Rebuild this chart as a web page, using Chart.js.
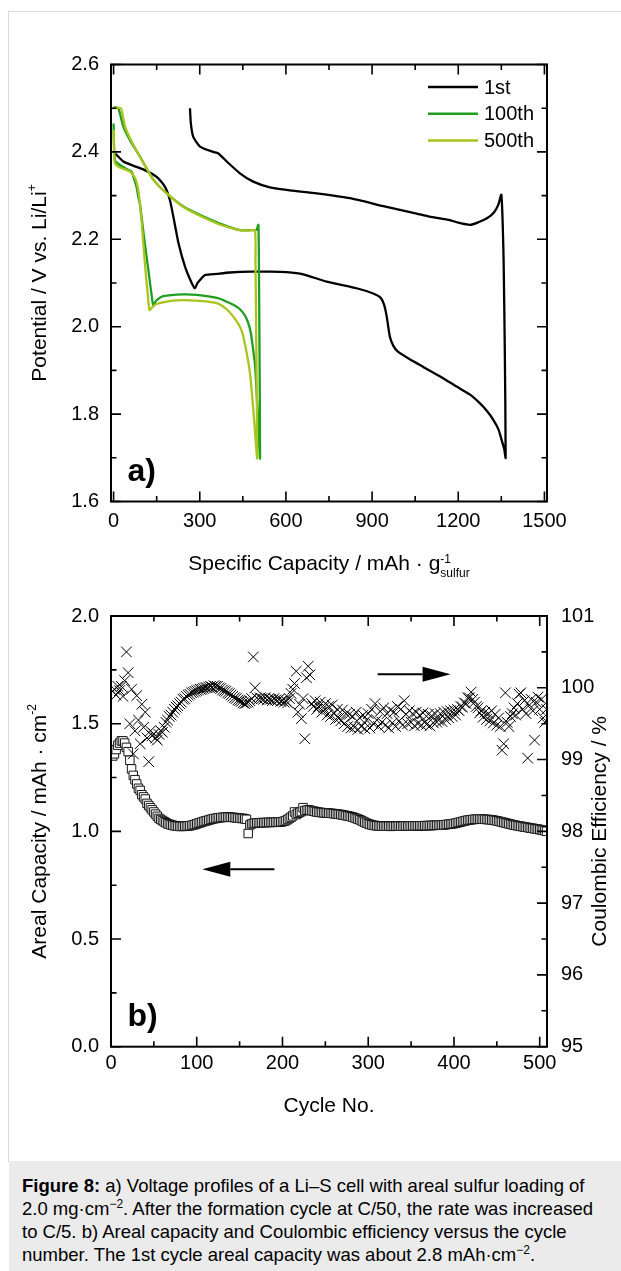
<!DOCTYPE html>
<html>
<head>
<meta charset="utf-8">
<script src="https://cdn.jsdelivr.net/npm/chart.js@4.4.0/dist/chart.umd.min.js"></script>
<style>
  body { margin: 0; background: #fff; width: 621px; height: 1271px; position: relative; overflow: hidden;
         font-family: "Liberation Sans", Arial, sans-serif; }
  #frame { position: absolute; left: 8px; top: 11px; width: 700px; height: 1150px;
           border-top: 1px solid #dadada; border-left: 1px solid #dadada; }
  #boxA { position: absolute; left: 0; top: 0; }
  #boxB { position: absolute; left: 0; top: 590px; }
  #caption { position: absolute; left: 9px; top: 1161px; width: 612px; height: 110px; background: #ebebeb;
             box-sizing: border-box; padding: 13px 0 0 13px; font-size: 18.5px; line-height: 23px; color: #000;
             white-space: nowrap; }
  #caption sup { font-size: 12px; line-height: 0; vertical-align: 7px; }
</style>
</head>
<body>
<div id="frame"></div>
<canvas id="boxA" width="621" height="590"></canvas>
<canvas id="boxB" width="621" height="570"></canvas>
<div id="caption"><b>Figure 8:</b> a) Voltage profiles of a Li–S cell with areal sulfur loading of<br>2.0 mg·cm<sup>−2</sup>. After the formation cycle at C/50, the rate was increased<br>to C/5. b) Areal capacity and Coulombic efficiency versus the cycle<br>number. The 1st cycle areal capacity was about 2.8 mAh·cm<sup>−2</sup>.</div>

<script>
const FONT = '"Liberation Sans", Arial, sans-serif';

// ---------- a) voltage profiles (capacity in mAh/g, potential in V) ----------
// 1st cycle: discharge then charge, one continuous trace
const cap1st = [0, 34, 70, 103, 150, 179, 196, 208, 226, 249, 270, 283, 292, 301, 318, 360, 405, 480, 545, 602,
                660, 742, 846, 904, 930, 942, 951, 962, 975, 990, 1030, 1078, 1140, 1194, 1240, 1275, 1300, 1322, 1340, 1351,
                1360, 1365, 1362, 1358, 1355, 1350, 1340, 1325, 1300, 1270, 1241, 1200, 1171, 1100, 1055, 939, 823, 707, 614, 544,
                486, 440, 394, 364, 347, 301, 277, 269, 266];
const pot1st = [2.400, 2.378, 2.368, 2.360, 2.343, 2.320, 2.290, 2.252, 2.191, 2.137, 2.103, 2.088, 2.100, 2.107, 2.118, 2.121, 2.124, 2.126, 2.126, 2.125,
                2.120, 2.103, 2.088, 2.076, 2.066, 2.050, 2.023, 1.977, 1.955, 1.943, 1.926, 1.908, 1.885, 1.863, 1.845, 1.825, 1.807, 1.787, 1.765, 1.741,
                1.720, 1.700, 1.950, 2.150, 2.230, 2.302, 2.280, 2.262, 2.248, 2.239, 2.233, 2.238, 2.244, 2.252, 2.259, 2.276, 2.294, 2.305, 2.312, 2.319,
                2.332, 2.351, 2.378, 2.397, 2.400, 2.412, 2.435, 2.465, 2.500];
const cap100 = [0, 1, 5, 22, 51, 63, 69, 80, 86, 92, 103, 109, 121, 133, 138, 145, 150, 173, 243, 290,
                336, 370, 394, 420, 440, 458, 469, 478, 486, 492, 498, 504, 510,
                508, 506, 504, 498, 487, 440, 382, 313, 243, 185, 139, 92, 57, 34, 22, 16, 8, 0];
const pot100 = [2.465, 2.427, 2.381, 2.370, 2.359, 2.355, 2.343, 2.320, 2.297, 2.280, 2.221, 2.190, 2.130, 2.069, 2.050, 2.056, 2.061, 2.070, 2.074, 2.073,
                2.069, 2.064, 2.057, 2.049, 2.040, 2.025, 2.008, 1.985, 1.947, 1.916, 1.850, 1.764, 1.699,
                1.950, 2.150, 2.233, 2.222, 2.221, 2.221, 2.233, 2.252, 2.275, 2.305, 2.336, 2.389, 2.427, 2.458, 2.488, 2.500, 2.502, 2.502];
const cap500 = [0, 2, 5, 20, 57, 75, 86, 98, 109, 118, 125, 135, 150, 200, 243, 300, 359, 390, 417, 440, 452, 475, 492, 500,
                497, 494, 492, 470, 440, 382, 313, 243, 185, 139, 95, 62, 40, 30, 25, 0];
const pot500 = [2.450, 2.400, 2.374, 2.365, 2.355, 2.340, 2.313, 2.237, 2.145, 2.080, 2.038, 2.045, 2.052, 2.059, 2.061, 2.059, 2.054, 2.042, 2.023, 2.000, 1.977, 1.893, 1.764, 1.699,
                1.950, 2.150, 2.221, 2.220, 2.221, 2.231, 2.250, 2.274, 2.305, 2.336, 2.385, 2.425, 2.458, 2.490, 2.500, 2.500];
const cycleLabels = ['1st', '100th', '500th'];
const capTicksA = [0, 300, 600, 900, 1200, 1500];
const capMinorA = [150, 450, 750, 1050, 1350];
const potTicksA = [1.6, 1.8, 2.0, 2.2, 2.4, 2.6];
const potMinorA = [1.7, 1.9, 2.1, 2.3, 2.5];

// ---------- b) cycling (every 2nd cycle, starting at cycle 2) ----------
const firstCycle = 2;
const cycleStep = 2;
const arealCap = [
  1.35, 1.36, 1.38, 1.40, 1.41, 1.42, 1.42, 1.41, 1.39, 1.37,
  1.33, 1.29, 1.26, 1.24, 1.22, 1.20, 1.19, 1.17, 1.16, 1.15,
  1.13, 1.12, 1.11, 1.10, 1.09, 1.08, 1.07, 1.06, 1.055, 1.05,
  1.045, 1.04, 1.035, 1.033, 1.03, 1.028, 1.026, 1.025, 1.024, 1.023,
  1.023, 1.023, 1.024, 1.024, 1.025, 1.026, 1.028, 1.030, 1.032, 1.035,
  1.038, 1.040, 1.043, 1.046, 1.048, 1.050, 1.052, 1.055, 1.057, 1.059,
  1.060, 1.062, 1.063, 1.064, 1.065, 1.065, 1.066, 1.066, 1.066, 1.065,
  1.065, 1.064, 1.063, 1.062, 1.061, 1.060, 1.060, 1.058, 1.056, 0.990,
  1.030, 1.035, 1.037, 1.038, 1.039, 1.040, 1.040, 1.041, 1.040, 1.041,
  1.041, 1.042, 1.041, 1.042, 1.042, 1.043, 1.042, 1.043, 1.044, 1.045,
  1.047, 1.050, 1.055, 1.060, 1.066, 1.072, 1.090, 1.078, 1.084, 1.088,
  1.092, 1.110, 1.096, 1.098, 1.100, 1.098, 1.096, 1.094, 1.092, 1.090,
  1.089, 1.088, 1.087, 1.086, 1.086, 1.085, 1.084, 1.084, 1.083, 1.082,
  1.081, 1.080, 1.079, 1.078, 1.076, 1.075, 1.073, 1.072, 1.070, 1.068,
  1.066, 1.063, 1.060, 1.057, 1.054, 1.050, 1.046, 1.042, 1.038, 1.035,
  1.032, 1.030, 1.028, 1.027, 1.026, 1.025, 1.025, 1.024, 1.024, 1.024,
  1.024, 1.024, 1.023, 1.024, 1.024, 1.024, 1.024, 1.025, 1.024, 1.024,
  1.025, 1.025, 1.024, 1.025, 1.025, 1.025, 1.026, 1.025, 1.026, 1.026,
  1.026, 1.026, 1.027, 1.026, 1.027, 1.027, 1.027, 1.028, 1.028, 1.028,
  1.029, 1.029, 1.030, 1.030, 1.031, 1.032, 1.033, 1.034, 1.035, 1.036,
  1.038, 1.040, 1.042, 1.044, 1.046, 1.048, 1.050, 1.052, 1.053, 1.054,
  1.055, 1.056, 1.056, 1.057, 1.057, 1.057, 1.056, 1.056, 1.055, 1.055,
  1.054, 1.053, 1.052, 1.050, 1.049, 1.047, 1.045, 1.043, 1.041, 1.039,
  1.037, 1.035, 1.033, 1.031, 1.029, 1.028, 1.026, 1.025, 1.023, 1.022,
  1.020, 1.019, 1.018, 1.016, 1.015, 1.014, 1.012, 1.011, 1.010, 1.008,
  1.006, 1.005, 1.003, 1.000
];
const coulEff = [
  99.95, 99.98, 99.90, 100.02, 99.96, 100.02, 99.88, 100.10, 100.50, 100.21,
  99.50, 99.98, 99.08, 99.40, 99.89, 99.55, 99.22, 99.77, 99.45, 99.66,
  99.30, 98.97, 99.40, 99.33, 99.36, 99.30, 99.27, 99.35, 99.40, 99.38,
  99.45, 99.52, 99.55, 99.60, 99.62, 99.66, 99.70, 99.73, 99.75, 99.78,
  99.80, 99.84, 99.85, 99.88, 99.90, 99.91, 99.93, 99.94, 99.95, 99.96,
  99.97, 99.98, 99.98, 99.99, 100.00, 100.00, 100.01, 100.02, 100.01, 100.03,
  100.02, 100.02, 100.00, 99.99, 99.97, 99.96, 99.95, 99.93, 99.92, 99.90,
  99.88, 99.86, 99.85, 99.83, 99.82, 99.81, 99.79, 99.78, 99.79, 99.80,
  99.82, 99.85, 100.43, 100.00, 99.86, 99.84, 99.86, 99.85, 99.84, 99.86,
  99.83, 99.85, 99.84, 99.82, 99.85, 99.83, 99.82, 99.84, 99.81, 99.82,
  99.80, 99.82, 99.79, 99.85, 99.92, 99.98, 100.06, 100.23, 99.66, 99.77,
  99.57, 99.85, 99.29, 100.14, 100.30, 100.18, 99.78, 99.74, 99.82, 99.70,
  99.74, 99.80, 99.66, 99.72, 99.78, 99.62, 99.74, 99.60, 99.76, 99.64,
  99.56, 99.70, 99.58, 99.54, 99.69, 99.50, 99.64, 99.46, 99.63, 99.44,
  99.60, 99.45, 99.66, 99.42, 99.58, 99.46, 99.62, 99.43, 99.55, 99.64,
  99.44, 99.70, 99.50, 99.78, 99.55, 99.46, 99.67, 99.52, 99.72, 99.48,
  99.64, 99.44, 99.69, 99.51, 99.66, 99.46, 99.74, 99.54, 99.70, 99.48,
  99.82, 99.63, 99.50, 99.68, 99.52, 99.64, 99.47, 99.66, 99.50, 99.62,
  99.48, 99.65, 99.52, 99.49, 99.63, 99.47, 99.61, 99.51, 99.64, 99.52,
  99.55, 99.64, 99.53, 99.66, 99.56, 99.67, 99.58, 99.68, 99.60, 99.69,
  99.62, 99.70, 99.68, 99.74, 99.73, 99.79, 99.78, 99.86, 99.86, 99.94,
  99.84, 99.80, 99.74, 99.72, 99.65, 99.68, 99.59, 99.66, 99.56, 99.64,
  99.54, 99.68, 99.51, 99.63, 99.48, 99.58, 99.46, 99.13, 99.22, 99.93,
  99.52, 99.46, 99.60, 99.64, 99.72, 99.62, 99.78, 99.91, 99.93, 99.70,
  99.82, 99.64, 99.02, 99.76, 99.84, 99.68, 99.27, 99.80, 99.87, 99.70,
  99.84, 99.58, 99.52, 99.70
];
const cycleTicks = [0, 100, 200, 300, 400, 500];
const cycleMinor = [50, 150, 250, 350, 450];
const arealTicks = [0, 0.5, 1.0, 1.5, 2.0];
const arealMinor = [0.25, 0.75, 1.25, 1.75];
const ceTicks = [95, 96, 97, 98, 99, 100, 101];
const ceMinor = [95.5, 96.5, 97.5, 98.5, 99.5, 100.5];

const cycles = arealCap.map((_, i) => firstCycle + i * cycleStep);

// draw a label made of pieces; an array inside the list is stacked (superscript over subscript)
function richText(ctx, segs, cx, cy, rot) {
  ctx.save();
  ctx.translate(cx, cy);
  ctx.rotate(rot || 0);
  ctx.fillStyle = '#000';
  ctx.textAlign = 'left';
  ctx.textBaseline = 'alphabetic';
  const widths = segs.map(g => {
    const parts = Array.isArray(g) ? g : [g];
    return Math.max(...parts.map(p => { ctx.font = p.size + 'px ' + FONT; return ctx.measureText(p.t).width; }));
  });
  let x = -widths.reduce((s, w) => s + w, 0) / 2;
  const base = segs[0].size * 0.36;
  segs.forEach((g, i) => {
    (Array.isArray(g) ? g : [g]).forEach(p => {
      ctx.font = p.size + 'px ' + FONT;
      ctx.fillText(p.t, x, base + (p.dy || 0));
    });
    x += widths[i];
  });
  ctx.restore();
}

function frameAndTicks(ctx, a, xs, yl, yr, t) {
  ctx.save();
  ctx.strokeStyle = '#000';
  ctx.lineWidth = 1.6;
  ctx.beginPath();
  const xt = (v, len) => {
    const px = xs.getPixelForValue(v);
    ctx.moveTo(px, a.bottom); ctx.lineTo(px, a.bottom - len);
    ctx.moveTo(px, a.top); ctx.lineTo(px, a.top + len);
  };
  const lt = (v, len) => { const py = yl.getPixelForValue(v); ctx.moveTo(a.left, py); ctx.lineTo(a.left + len, py); };
  const rt = (v, len) => { const py = yr.getPixelForValue(v); ctx.moveTo(a.right, py); ctx.lineTo(a.right - len, py); };
  t.xMaj.forEach(v => xt(v, 10)); t.xMin.forEach(v => xt(v, 5.5));
  t.lMaj.forEach(v => lt(v, 10)); t.lMin.forEach(v => lt(v, 5.5));
  t.rMaj.forEach(v => rt(v, 10)); t.rMin.forEach(v => rt(v, 5.5));
  ctx.stroke();
  ctx.lineWidth = 2;
  ctx.strokeRect(a.left, a.top, a.right - a.left, a.bottom - a.top);
  ctx.restore();
}

function arrow(ctx, x0, x1, y) {
  const dir = Math.sign(x1 - x0), head = 28, half = 7.5;
  ctx.save();
  ctx.strokeStyle = '#000'; ctx.fillStyle = '#000'; ctx.lineWidth = 2;
  ctx.beginPath(); ctx.moveTo(x0, y); ctx.lineTo(x1 - dir * head, y); ctx.stroke();
  ctx.beginPath(); ctx.moveTo(x1, y); ctx.lineTo(x1 - dir * head, y - half); ctx.lineTo(x1 - dir * head, y + half);
  ctx.closePath(); ctx.fill();
  ctx.restore();
}

function panelLabel(ctx, a, txt) {
  ctx.save();
  ctx.fillStyle = '#000';
  ctx.font = 'bold 32px ' + FONT;
  ctx.textBaseline = 'alphabetic';
  ctx.fillText(txt, a.left + 16.5, a.bottom - 20.5);
  ctx.restore();
}

const tickFont = { family: FONT, size: 20 };
const pairs = (xs, ys) => xs.map((x, i) => ({ x: x, y: ys[i] }));

// ---------- chart a ----------
const decorA = {
  id: 'decorA',
  afterDraw(chart) {
    const ctx = chart.ctx, a = chart.chartArea, s = chart.scales;
    frameAndTicks(ctx, a, s.x, s.y, s.y,
      { xMaj: capTicksA, xMin: capMinorA, lMaj: potTicksA, lMin: potMinorA, rMaj: potTicksA, rMin: potMinorA });
    // legend
    chart.data.datasets.forEach((ds, i) => {
      const y = a.top + 22.5 + i * 26.7;
      ctx.save();
      ctx.strokeStyle = ds.borderColor; ctx.lineWidth = 2.5;
      ctx.beginPath(); ctx.moveTo(a.right - 119, y); ctx.lineTo(a.right - 69, y); ctx.stroke();
      ctx.fillStyle = '#000'; ctx.font = '20px ' + FONT; ctx.textBaseline = 'middle';
      ctx.fillText(ds.label, a.right - 63, y + 1);
      ctx.restore();
    });
    panelLabel(ctx, a, 'a)');
    richText(ctx, [{ t: 'Specific Capacity / mAh · g', size: 21 },
                   [{ t: '-1', size: 12, dy: -7 }, { t: 'sulfur', size: 12, dy: 7 }]],
             (a.left + a.right) / 2, 562, 0);
    richText(ctx, [{ t: 'Potential / V vs. Li/Li', size: 21 }, { t: '+', size: 12, dy: -10 }],
             38, (a.top + a.bottom) / 2, -Math.PI / 2);
  }
};

new Chart(document.getElementById('boxA'), {
  type: 'scatter',
  data: {
    datasets: [
      { label: cycleLabels[0], data: pairs(cap1st, pot1st), borderColor: '#000000', order: 2 },
      { label: cycleLabels[1], data: pairs(cap100, pot100), borderColor: '#1f9e1f', order: 1 },
      { label: cycleLabels[2], data: pairs(cap500, pot500), borderColor: '#a9c41d', order: 0 }
    ].map(d => Object.assign(d, { showLine: true, pointRadius: 0, borderWidth: 2.3, tension: 0.2, fill: false }))
  },
  options: {
    responsive: false,
    animation: false,
    layout: { padding: { left: 0, right: 74, top: 64.5, bottom: 0 } },
    plugins: { legend: { display: false }, tooltip: { enabled: false } },
    scales: {
      x: {
        type: 'linear', position: 'bottom', min: -9, max: 1509,
        grid: { display: false, drawTicks: false }, border: { display: false },
        ticks: { font: tickFont, color: '#000', padding: 8, maxRotation: 0, callback: v => String(v) },
        afterBuildTicks: s => { s.ticks = capTicksA.map(v => ({ value: v })); },
        afterFit: s => { s.height = 88.5; }
      },
      y: {
        type: 'linear', position: 'left', min: 1.6, max: 2.6,
        grid: { display: false, drawTicks: false }, border: { display: false },
        ticks: { font: tickFont, color: '#000', padding: 12, callback: v => v.toFixed(1) },
        afterBuildTicks: s => { s.ticks = potTicksA.map(v => ({ value: v })); },
        afterFit: s => { s.width = 111; }
      }
    }
  },
  plugins: [decorA]
});

// ---------- chart b ----------
const decorB = {
  id: 'decorB',
  afterDraw(chart) {
    const ctx = chart.ctx, a = chart.chartArea, s = chart.scales;
    frameAndTicks(ctx, a, s.x, s.y, s.y1,
      { xMaj: cycleTicks, xMin: cycleMinor, lMaj: arealTicks, lMin: arealMinor, rMaj: ceTicks, rMin: ceMinor });
    arrow(ctx, s.x.getPixelForValue(311), s.x.getPixelForValue(396), s.y1.getPixelForValue(100.19));
    arrow(ctx, s.x.getPixelForValue(190.6), s.x.getPixelForValue(106.5), s.y.getPixelForValue(0.824));
    panelLabel(ctx, a, 'b)');
    richText(ctx, [{ t: 'Cycle No.', size: 21 }], (a.left + a.right) / 2, 514, 0);
    richText(ctx, [{ t: 'Areal Capacity / mAh · cm', size: 21 }, { t: '-2', size: 12, dy: -10 }],
             38, (a.top + a.bottom) / 2, -Math.PI / 2);
    richText(ctx, [{ t: 'Coulombic Efficiency / %', size: 21 }],
             598, (a.top + a.bottom) / 2, -Math.PI / 2);
  }
};

new Chart(document.getElementById('boxB'), {
  type: 'scatter',
  data: {
    datasets: [
      { label: 'Coulombic efficiency', data: pairs(cycles, coulEff), yAxisID: 'y1',
        pointStyle: 'crossRot', pointRadius: 7.5, borderColor: '#000', borderWidth: 1, backgroundColor: '#000' },
      { label: 'Areal capacity', data: pairs(cycles, arealCap), yAxisID: 'y',
        pointStyle: 'rect', pointRadius: 6, borderColor: '#161616', borderWidth: 1, backgroundColor: '#ffffff' }
    ]
  },
  options: {
    responsive: false,
    animation: false,
    layout: { padding: { left: 0, right: 0, top: 20.7, bottom: 0 } },
    plugins: { legend: { display: false }, tooltip: { enabled: false } },
    scales: {
      x: {
        type: 'linear', position: 'bottom', min: 0, max: 508.5,
        grid: { display: false, drawTicks: false }, border: { display: false },
        ticks: { font: tickFont, color: '#000', padding: 5, maxRotation: 0 },
        afterBuildTicks: s => { s.ticks = cycleTicks.map(v => ({ value: v })); },
        afterFit: s => { s.height = 113.3; }
      },
      y: {
        type: 'linear', position: 'left', min: 0, max: 2,
        grid: { display: false, drawTicks: false }, border: { display: false },
        ticks: { font: tickFont, color: '#000', padding: 12, callback: v => v.toFixed(1) },
        afterBuildTicks: s => { s.ticks = arealTicks.map(v => ({ value: v })); },
        afterFit: s => { s.width = 111; }
      },
      y1: {
        type: 'linear', position: 'right', min: 95, max: 101,
        grid: { display: false, drawTicks: false }, border: { display: false },
        ticks: { font: tickFont, color: '#000', padding: 14, callback: v => String(v) },
        afterBuildTicks: s => { s.ticks = ceTicks.map(v => ({ value: v })); },
        afterFit: s => { s.width = 74; }
      }
    }
  },
  plugins: [decorB]
});
</script>
</body>
</html>
